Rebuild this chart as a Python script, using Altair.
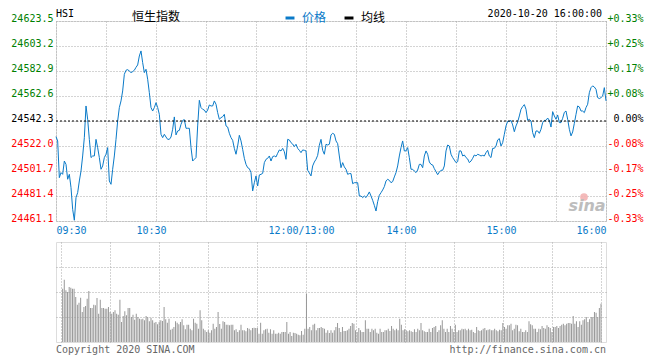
import altair as alt
import pandas as pd

PREV_CLOSE = 24542.3
BLUE = "#0a7ac8"
GREEN = "#008000"
RED = "#ff0000"
GRID = "#a8a8a8"
BORDER = "#999999"
VOLC = "#979797"
MONO = "DejaVu Sans Mono"
CJK = "Noto Sans CJK SC"

# one price per minute, 09:30 (minute 0) .. 16:00 (minute 330); 12:00 and 13:00 share minute 150
price = [
    24529.6, 24526.1, 24496.3, 24500.4, 24499.0, 24509.8, 24507.1, 24495.0, 24499.0, 24488.2,
    24470.6, 24461.7, 24480.1, 24484.1, 24493.6, 24501.7, 24513.9, 24528.8, 24554.5, 24543.7,
    24527.4, 24512.6, 24513.9, 24513.9, 24527.4, 24520.7, 24512.6, 24503.1, 24505.8, 24512.6,
    24515.3, 24520.7, 24493.6, 24490.9, 24503.1, 24513.9, 24527.4, 24542.3, 24553.2, 24558.6,
    24566.7, 24580.2, 24583.5, 24584.0, 24582.9, 24581.6, 24582.4, 24583.5, 24585.9, 24587.8,
    24595.1, 24599.2, 24589.7, 24581.6, 24584.3, 24576.2, 24565.3, 24553.2, 24550.4, 24553.2,
    24557.2, 24553.2, 24547.7, 24531.5, 24528.8, 24531.5, 24529.3, 24527.4, 24527.4, 24529.3,
    24535.6, 24545.6, 24531.0, 24534.2, 24534.7, 24539.6, 24542.8, 24543.4, 24536.4, 24536.4,
    24536.4, 24520.7, 24509.8, 24511.2, 24512.6, 24538.3, 24559.1, 24553.2, 24551.8, 24551.2,
    24549.1, 24551.2, 24555.3, 24554.5, 24554.5, 24558.6, 24555.9, 24549.1, 24543.7, 24545.0,
    24545.8, 24547.7, 24538.3, 24537.4, 24532.3, 24528.8, 24526.6, 24520.1, 24515.3, 24522.0,
    24530.7, 24526.1, 24519.3, 24512.0, 24507.1, 24504.4, 24503.6, 24500.4, 24485.5, 24492.2,
    24497.7, 24489.5, 24498.5, 24499.0, 24499.8, 24508.5, 24511.2, 24512.0, 24513.9, 24509.8,
    24513.4, 24513.9, 24513.1, 24516.1, 24518.8, 24518.0, 24520.1, 24517.4, 24511.2, 24527.4,
    24526.9, 24524.7, 24523.6, 24521.5, 24523.4, 24520.1, 24518.5, 24516.6, 24518.8, 24518.5,
    24518.0, 24502.3, 24500.1, 24497.7, 24505.8, 24509.0, 24511.2, 24514.4, 24522.6, 24527.4,
    24518.5, 24515.3, 24523.4, 24522.8, 24523.4, 24531.0, 24532.3, 24531.5, 24526.1, 24523.9,
    24513.9, 24504.4, 24508.5, 24505.0, 24503.1, 24499.0, 24499.6, 24499.6, 24491.4, 24492.2,
    24492.2, 24492.2, 24481.4, 24481.4, 24480.1, 24481.4, 24480.1, 24482.2, 24484.7, 24481.4,
    24477.9, 24473.8, 24469.2, 24476.8, 24482.0, 24484.1, 24486.3, 24489.0, 24493.6, 24495.0,
    24494.1, 24492.2, 24493.1, 24496.9, 24500.4, 24505.8, 24513.9, 24520.7, 24526.1, 24518.0,
    24518.0, 24520.7, 24512.6, 24503.1, 24503.1, 24501.7, 24500.4, 24502.5, 24507.1, 24507.1,
    24504.4, 24513.9, 24518.0, 24515.3, 24509.0, 24507.1, 24506.6, 24503.6, 24501.2, 24498.7,
    24500.9, 24502.3, 24502.3, 24505.8, 24518.0, 24522.8, 24522.0, 24515.3, 24512.6, 24510.6,
    24508.5, 24509.3, 24518.0, 24518.0, 24513.9, 24514.7, 24512.6, 24511.5, 24508.5, 24509.8,
    24512.0, 24514.7, 24513.9, 24515.3, 24514.7, 24513.9, 24514.4, 24513.9, 24516.6, 24518.5,
    24513.9, 24512.6, 24520.1, 24520.1, 24522.0, 24526.9, 24528.0, 24522.0, 24524.7, 24531.5,
    24538.3, 24542.0, 24542.0, 24542.8, 24539.1, 24533.6, 24538.3, 24541.5, 24546.4, 24551.8,
    24554.0, 24555.6, 24551.8, 24542.8, 24543.7, 24542.3, 24532.9, 24528.8, 24534.2, 24534.2,
    24532.3, 24535.6, 24541.0, 24542.8, 24542.8, 24544.7, 24542.8, 24537.4, 24549.9, 24546.4,
    24543.7, 24547.2, 24541.0, 24541.0, 24544.5, 24549.3, 24550.4, 24543.7, 24535.6, 24530.2,
    24533.4, 24540.4, 24547.7, 24554.5, 24553.7, 24550.4, 24550.4, 24549.1, 24553.2, 24555.9,
    24565.3, 24569.4, 24570.8, 24569.9, 24568.0, 24561.3, 24560.5, 24561.3, 24562.6, 24569.4,
    24558.6,
]

# one volume bar per minute, minute 1 .. 330 (relative units)
volume = [
    53.3, 62.3, 51.7, 50, 55, 54.3, 53.3, 53.3, 45, 37.3,
    39.3, 44.3, 30, 35, 36, 43.3, 51, 34, 34, 37.3,
    36.7, 44, 28.3, 42.3, 34, 34, 33.3, 33.3, 35, 30,
    28.3, 30, 31.7, 28.3, 27.3, 42.3, 20, 26, 30.7, 26.7,
    34, 34, 25, 27.3, 22.3, 28.3, 25, 23.3, 22.7, 23.3,
    21.7, 26, 25, 20.7, 24.3, 21.7, 19.3, 20, 17.7, 20,
    21.7, 21, 35, 22.7, 19.3, 23.3, 12.3, 13.3, 15, 20.7,
    19.3, 17.7, 20, 22.7, 16.7, 12.7, 17.3, 17.3, 13.3, 11.7,
    23.3, 19.3, 18.3, 13.3, 31.7, 21.7, 13.3, 11.7, 10, 11.7,
    9.3, 11.7, 18.3, 13.3, 15, 30, 18, 13.3, 20.7, 20,
    17.3, 17.3, 16.7, 17.3, 17.3, 11.7, 12.7, 10, 11.7, 17.3,
    11.7, 11.7, 10.7, 14, 13.3, 11.7, 14, 14.3, 14, 14,
    8.3, 19.3, 8.3, 11.7, 12.7, 13.3, 9.3, 12.7, 8.3, 11.7,
    8.3, 8.3, 9.3, 8.3, 10, 10, 10, 20, 8.3, 10,
    6, 9.3, 9, 8.3, 7.3, 6.7, 11, 7.3, 13.3,
    48.3,
    13.3, 15, 11.7, 17.3, 18.3, 11.7, 14, 14, 15, 14, 13.3, 9.3, 11.7,
    9, 11.7, 9.3, 11.7, 15, 19, 14, 10, 15, 11,
    11, 11.7, 13.3, 16, 19, 18.3, 11.7, 10, 14, 11.7,
    10, 10, 21.7, 13.3, 13.3, 10, 13.3, 11.7, 13.3, 9.3,
    8.3, 13.3, 10, 10, 11.7, 11.7, 13.3, 11, 16, 13.3,
    11.7, 13.3, 11.7, 23.3, 17.3, 11.7, 12.7, 11.7, 10.7, 11.7,
    10.7, 10, 12.7, 10, 13.3, 11.7, 19, 11.7, 10.7, 10,
    10, 13.3, 10, 14, 15, 16, 10, 11.7, 16.7, 21.7,
    13.3, 10, 13.3, 10, 16, 13.3, 10, 17.3, 10, 11.7,
    11.7, 13.3, 12.7, 13.3, 11.7, 13.3, 11.7, 12.3, 10, 9,
    15, 11.7, 11, 11.7, 13.3, 14, 11.7, 12.3, 12.7, 11.7,
    11.7, 13.3, 11.7, 10.7, 12.3, 11.7, 19, 15, 13.3, 16.7,
    16.7, 18.3, 11.7, 13.3, 17.3, 16.7, 10.7, 13.3, 10, 10,
    11.7, 10, 20.7, 17.7, 16.7, 13.3, 13.3, 10, 13.3, 12.7,
    16, 14, 13.3, 16.7, 15, 14, 10, 15, 15, 16,
    14, 16, 17.3, 18.3, 16.7, 18.3, 19, 19, 18.3,
    26, 18.3, 20.7, 15, 20.7, 17.3, 21.7, 22.7, 25, 20,
    22.7, 25, 25, 30, 29.3, 25, 34, 38.3,
]

price_ticks = [24461.1, 24481.4, 24501.7, 24522.0, 24542.3, 24562.6, 24582.9, 24603.2, 24623.5]
grid_minutes = [0, 30, 60, 90, 120, 150, 180, 210, 240, 270, 300, 330]
time_tick_minutes = [0, 60, 150, 210, 270, 330]
time_tick_labels = ["09:30", "10:30", "12:00/13:00", "14:00", "15:00", "16:00"]
vol_ticks = [25, 50, 75]

price_df = pd.DataFrame({"minute": list(range(len(price))), "price": price, "series": "价格"})
vol_df = pd.DataFrame({"minute": list(range(1, len(volume) + 1)), "volume": volume})
ref_df = pd.DataFrame({"price": [PREV_CLOSE]})

x_label_expr = "".join(
    f"datum.value == {m} ? '{l}' : " for m, l in zip(time_tick_minutes, time_tick_labels)
) + "''"
x_offset_expr = f"datum.value == {time_tick_minutes[0]} || datum.value == {time_tick_minutes[-1]} ? 0 : -5"
color_expr = (
    f"datum.value > {PREV_CLOSE + 0.05} ? '{GREEN}' : "
    f"datum.value < {PREV_CLOSE - 0.05} ? '{RED}' : '#000000'"
)
pct_expr = (
    f"(abs(datum.value - {PREV_CLOSE}) < 0.05 ? '' : (datum.value > {PREV_CLOSE} ? '+' : '-')) + "
    f"format(abs(datum.value - {PREV_CLOSE}) / {PREV_CLOSE} * 100, '.2f') + '%'"
)

xscale = alt.Scale(domain=[0, 330], nice=False, zero=False)
yscale = alt.Scale(domain=[price_ticks[0], price_ticks[-1]], nice=False, zero=False)

x_price = alt.X(
    "minute:Q", scale=xscale,
    axis=alt.Axis(values=grid_minutes, grid=True, gridColor=GRID, gridDash=[1, 2],
                  domain=False, ticks=False, title=None, labelExpr=x_label_expr,
                  labelFont=MONO, labelFontSize=10, labelColor=BLUE, labelPadding=4,
                  labelBaseline="top", labelOverlap=False, labelFlush=True,
                  labelOffset={"expr": x_offset_expr}),
)

y_left = alt.Axis(values=price_ticks, format=".1f", grid=True, gridColor=GRID, gridDash=[1, 2],
                  domain=False, ticks=False, title=None, labelFont=MONO, labelFontSize=10,
                  labelColor={"expr": color_expr}, labelPadding=3, labelBaseline="middle",
                  labelOffset=-3, labelOverlap=False, orient="left")
y_right = alt.Axis(values=price_ticks, grid=False, domain=False, ticks=False, title=None,
                   labelExpr=pct_expr, labelFont=MONO, labelFontSize=10,
                   labelColor={"expr": color_expr}, labelAlign="right", labelPadding=37,
                   labelBaseline="middle", labelOffset=-3, labelOverlap=False, orient="right")

line = alt.Chart(price_df).mark_line(strokeWidth=1).encode(
    x=x_price,
    y=alt.Y("price:Q", scale=yscale, axis=y_left),
    color=alt.Color(
        "series:N",
        scale=alt.Scale(domain=["价格", "均线"], range=[BLUE, "#000000"]),
        legend=alt.Legend(title=None, orient="none", legendX=228, legendY=-9,
                          direction="horizontal", symbolType="stroke", symbolStrokeWidth=3,
                          symbolSize=80, labelFont=CJK, labelFontSize=12, labelOffset=6,
                          columnPadding=11, padding=0, rowPadding=0, symbolOffset=0,
                          labelBaseline="middle",
                          labelColor={"expr": f"datum.value == '价格' ? '{BLUE}' : '#000000'"}),
    ),
)

ref = alt.Chart(ref_df).mark_rule(color="#000000", strokeDash=[2, 2], strokeWidth=1).encode(
    y=alt.Y("price:Q", scale=yscale, axis=y_right)
)


def note(text, x, y, align="left", baseline="top", font=MONO, size=10, color="#000000", **kw):
    return alt.Chart(pd.DataFrame({"t": [text]})).mark_text(
        align=align, baseline=baseline, font=font, fontSize=size, color=color, **kw
    ).encode(x=alt.value(x), y=alt.value(y), text="t:N")


eye = alt.Chart(pd.DataFrame({"t": [0]})).mark_point(
    filled=True, shape="circle", size=60, color="#f3b3b3", opacity=0.9
).encode(x=alt.value(528), y=alt.value(176))

price_chart = alt.layer(
    line, ref,
    note("HSI", 0, -12),
    note("恒生指数", 100, -4, align="center", baseline="middle", font=CJK, size=12),
    note("2020-10-20 16:00:00", 546, -12, align="right"),
    eye,
    note("sina", 531, 185, align="center", baseline="middle", font="DejaVu Sans", size=16,
         color="#bdbdbd", fontStyle="italic", fontWeight="bold"),
).resolve_axis(y="independent").properties(width=550, height=200)

bars = alt.Chart(vol_df).mark_bar(size=1, color=VOLC).encode(
    x=alt.X("minute:Q", scale=xscale,
            axis=alt.Axis(values=grid_minutes, grid=True, gridColor=GRID, gridDash=[1, 2],
                          labels=False, ticks=False, domain=False, title=None)),
    y=alt.Y("volume:Q", scale=alt.Scale(domain=[0, 100], nice=False),
            axis=alt.Axis(values=vol_ticks, grid=True, gridColor=GRID, gridDash=[1, 2],
                          labels=False, ticks=False, domain=False, title=None)),
)

vol_chart = alt.layer(
    bars,
    note("Copyright 2020 SINA.COM", 0, 108, baseline="middle", color="#666666"),
    note("http://finance.sina.com.cn", 550, 108, align="right", baseline="middle", color="#666666"),
).properties(width=550, height=100)

chart = alt.vconcat(price_chart, vol_chart, spacing=21, bounds="flush").properties(
    padding={"left": 2, "top": 0, "right": 4, "bottom": 2}
).configure_view(stroke=BORDER, strokeWidth=1).configure(background="white")

chart.save("out.html", embed_options={"renderer": "svg", "actions": False})
